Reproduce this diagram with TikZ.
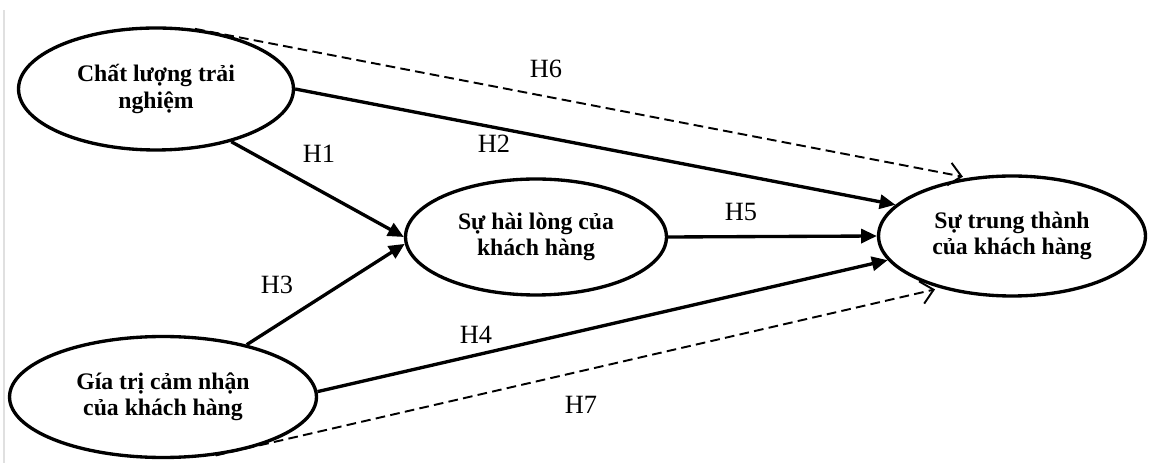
\documentclass[tikz,border=0pt]{standalone}
\usepackage{fontspec}
\setmainfont{Liberation Serif}
\usetikzlibrary{arrows.meta, shapes.geometric}

\begin{document}
\begin{tikzpicture}[x=0.02cm, y=0.02cm,
    construct/.style={ellipse, draw, line width=1.9pt, inner sep=0pt, align=center,
      font=\fontsize{13.5}{15}\selectfont\bfseries},
    effect/.style={line width=1.9pt, -{Triangle[length=9pt, width=8pt]}},
    indirect/.style={line width=1.1pt, dash pattern=on 5.5pt off 3pt, shorten >=3pt,
      -{Straight Barb[length=7pt, width=13pt]}},
    hyp/.style={font=\fontsize{15}{18}\selectfont}]
  \useasboundingbox (0,0) rectangle (1169,463);
  % page edge
  \draw[black!12, line width=0.6pt] (4,453) -- (4,0);
  % Constructs
  \node[construct, minimum width=5.5cm, minimum height=2.44cm] (quality) at (156,374) {Chất lượng trải\\nghiệm};
  \node[construct, minimum width=5.22cm, minimum height=2.32cm] (satisfaction) at (536,226) {Sự hài lòng của\\khách hàng};
  \node[construct, minimum width=6.14cm, minimum height=2.42cm] (value) at (163,66) {Gía trị cảm nhận\\của khách hàng};
  \node[construct, minimum width=5.34cm, minimum height=2.4cm] (loyalty) at (1012,227) {Sự trung thành\\của khách hàng};
  % Direct paths
  \draw[effect] (quality.-35) -- (satisfaction.180);
  \draw[effect] (value.32) -- (satisfaction.183);
  \draw[effect] (quality.0) -- (loyalty.165);
  \draw[effect] (satisfaction.0) -- (loyalty.180);
  \draw[effect] (value.2) -- (loyalty.191);
  % Mediated paths
  \draw[indirect] (quality.57) -- (loyalty.127);
  \draw[indirect] (value.-48) -- (loyalty.216);
  % Hypothesis labels
  \node[hyp] (h1) at (319,309) {H1};
  \node[hyp] (h2) at (494,319) {H2};
  \node[hyp] (h3) at (277,178) {H3};
  \node[hyp] (h4) at (476,128) {H4};
  \node[hyp] (h5) at (741,251) {H5};
  \node[hyp] (h6) at (546,394) {H6};
  \node[hyp] (h7) at (581,58) {H7};
\end{tikzpicture}
\end{document}
